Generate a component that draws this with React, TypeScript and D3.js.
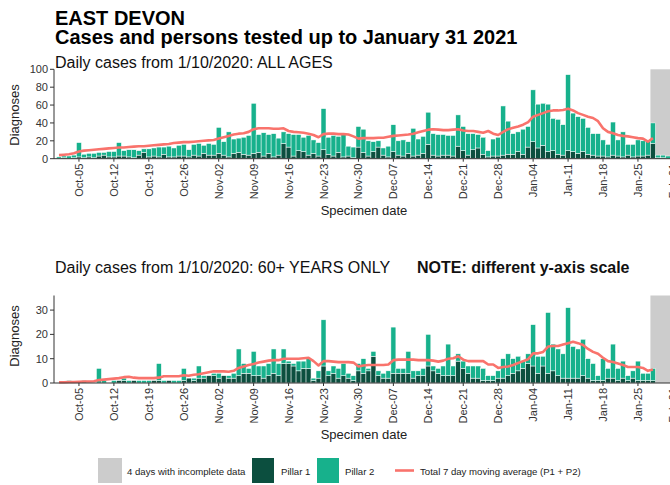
import React from "react";
import * as d3 from "d3";

// ---------- DATA ----------
const START_DATE = Date.UTC(2020, 9, 1); // 1 Oct 2020, one value per day to 31 Jan 2021
const INCOMPLETE_DAYS = 4;

// ALL AGES
const allPillar1 = [
  0, 1, 0, 1, 2, 1, 2, 1, 3, 4, 2, 2, 3, 3, 2, 1, 4, 7, 2, 3,
  2, 5, 2, 2, 3, 3, 2, 4, 3, 6, 4, 4, 6, 4, 2, 6, 7, 5, 4, 6,
  7, 3, 6, 2, 4, 17, 13, 3, 9, 8, 4, 6, 3, 10, 5, 3, 7, 2, 3, 1,
  13, 7, 3, 8, 13, 4, 2, 8, 4, 3, 6, 3, 4, 6, 16, 4, 3, 4, 4, 3,
  14, 9, 4, 10, 12, 5, 2, 3, 3, 4, 5, 5, 8, 5, 13, 19, 12, 15, 8, 9,
  5, 4, 9, 8, 6, 8, 5, 4, 3, 3, 2, 4, 3, 2, 4, 2, 3, 3, 4, 17,
  1, 1, 0,
];
const allPillar2 = [
  2, 2, 3, 3, 16, 4, 4, 5, 4, 3, 6, 6, 15, 6, 8, 9, 5, 4, 9, 9,
  11, 8, 12, 10, 12, 13, 8, 12, 14, 9, 13, 12, 29, 15, 28, 16, 16, 19, 22, 56,
  20, 26, 21, 26, 19, 13, 15, 24, 18, 16, 22, 15, 15, 46, 19, 23, 18, 25, 11, 12,
  23, 26, 17, 11, 7, 8, 12, 30, 16, 18, 13, 31, 18, 19, 36, 24, 24, 23, 22, 23,
  35, 27, 24, 18, 15, 19, 7, 19, 21, 55, 37, 23, 22, 28, 23, 58, 49, 47, 53, 36,
  39, 34, 85, 43, 41, 37, 30, 24, 25, 18, 14, 37, 18, 28, 12, 14, 18, 17, 16, 23,
  3, 3, 3,
];
const allMovingAvg = [
  4, 4.5, 5, 6, 8, 9, 9.5, 10, 10.5, 11, 11.5, 12, 12.5, 12.5, 13, 13.5, 14, 14, 14.5, 15,
  15.5, 16, 16.5, 17.5, 18, 18.5, 18.5, 19, 19.5, 20, 20.5, 21, 22.5, 24, 25.5, 27, 28, 28.5, 30, 33,
  34, 34, 34, 33.5, 33.5, 34, 31, 30, 29.5, 29, 28, 26.5, 24, 27.5, 28, 28, 27.5, 27.5, 27, 25,
  22.5, 23, 23, 23, 23.5, 23.5, 24.5, 25.5, 26, 26.5, 27, 28, 29.5, 31, 32.5, 33, 32.5, 32, 32, 32.5,
  33, 31.5, 31, 31, 30, 29, 31, 28, 26.5, 30, 33, 34.5, 36, 38, 41, 47, 49, 51, 53, 54,
  54, 54.5, 56, 54, 51, 49, 47, 45.5, 42, 34, 30, 28.5, 26.5, 25.5, 25, 24, 23, 22.5, 19, 23,
];

// 60+ YEARS ONLY
const oldPillar1 = [
  0, 0, 0, 0, 0, 0, 0, 0, 0, 0, 0, 0, 1, 1, 0, 1, 0, 0, 0, 1,
  1, 0, 1, 0, 0, 1, 2, 1, 2, 2, 3, 3, 2, 3, 2, 2, 3, 4, 4, 3,
  3, 2, 3, 4, 3, 8, 8, 7, 5, 6, 6, 1, 2, 7, 3, 4, 2, 3, 2, 1,
  5, 4, 5, 11, 3, 2, 2, 4, 4, 4, 4, 2, 3, 3, 7, 5, 4, 3, 3, 3,
  9, 6, 4, 2, 2, 1, 1, 1, 2, 2, 3, 4, 5, 6, 8, 7, 4, 7, 4, 5,
  3, 2, 2, 2, 2, 3, 2, 1, 1, 1, 2, 2, 1, 2, 1, 2, 1, 1, 1, 1,
  0, 0, 0,
];
const oldPillar2 = [
  0, 0, 1, 0, 0, 1, 0, 0, 6, 1, 0, 1, 0, 1, 1, 0, 1, 1, 1, 0,
  7, 1, 0, 1, 1, 5, 0, 1, 5, 1, 0, 1, 2, 0, 1, 2, 11, 4, 2, 10,
  4, 5, 5, 10, 5, 6, 1, 1, 4, 3, 4, 1, 3, 19, 2, 3, 4, 5, 2, 2,
  3, 6, 1, 2, 2, 2, 3, 19, 2, 2, 9, 3, 2, 3, 13, 2, 2, 4, 13, 4,
  3, 3, 3, 5, 5, 5, 2, 2, 3, 8, 9, 6, 6, 3, 4, 17, 7, 4, 25, 11,
  11, 10, 29, 13, 12, 15, 8, 7, 2, 9, 4, 14, 5, 7, 2, 3, 8, 3, 3, 5,
  0, 0, 0,
];
const oldMovingAvg = [
  0.3, 0.3, 0.4, 0.4, 0.5, 0.6, 0.6, 0.7, 1.2, 1.4, 1.6, 1.8, 2.0, 2.4, 2.6, 2.2, 2.0, 2.0, 2.0, 2.0,
  2.2, 2.8, 2.8, 2.8, 2.8, 3.2, 3.0, 3.4, 3.6, 4.0, 4.4, 4.8, 4.8, 4.8, 4.6, 5.0, 6.2, 6.8, 7.4, 7.8,
  8.4, 8.8, 9.2, 9.4, 9.4, 10.0, 10.0, 10.0, 10.0, 10.2, 10.4, 9.0, 7.2, 9.0, 9.0, 8.8, 8.6, 8.6, 8.6, 8.4,
  6.8, 7.2, 7.4, 7.4, 7.4, 7.4, 7.6, 9.4, 9.6, 9.6, 9.6, 9.6, 9.4, 9.4, 9.4, 9.2, 8.8, 9.2, 10.0, 10.2,
  11.0, 9.6, 9.0, 9.0, 9.0, 9.0, 7.6, 7.6, 6.2, 6.6, 6.8, 7.4, 8.2, 9.0, 9.8, 12.2, 12.2, 12.8, 15.0, 15.2,
  15.2, 15.8, 16.4, 17.0, 16.4, 15.6, 14.0, 12.8, 12.0, 10.4, 9.0, 8.6, 8.0, 7.4, 6.6, 6.6, 6.6, 6.2, 5.0, 5.6,
];

const topTicks = [0, 20, 40, 60, 80, 100];
const bottomTicks = [0, 10, 20, 30];
const legendLabels = ["4 days with incomplete data", "Pillar 1", "Pillar 2", "Total 7 day moving average (P1 + P2)"];

// ---------- STYLE ----------
const W = 670;
const H = 485;
const FONT = "'Liberation Sans', Arial, Helvetica, sans-serif";
const C_P1 = "#0c4f3f";
const C_P2 = "#17b18c";
const C_LINE = "#f9736c";
const C_GRAY = "#cccccc";
const C_AXIS = "#333333";

const DAY_MS = 86400000;
const day = (i: number) => new Date(START_DATE + i * DAY_MS);

const x = d3
  .scaleUtc()
  .domain([day(-1), day(127)])
  .range([54, 54 + 128 * 4.991]);

const fmt = d3.utcFormat("%b-%d");

type PanelProps = {
  p1: number[];
  p2: number[];
  ma: number[];
  yMax: number;
  ticks: number[];
  yBottom: number;
  yTop: number;
  xTitleY: number;
  yTitleY: number;
};

function Panel({ p1, p2, ma, yMax, ticks, yBottom, yTop, xTitleY, yTitleY }: PanelProps) {
  const y = d3.scaleLinear().domain([0, yMax]).range([yBottom, yTop]);
  const step = x(day(1)) - x(day(0));
  const n = p1.length;
  const grayX = x(day(n - INCOMPLETE_DAYS)) - step / 2;
  const line = d3
    .line<number>()
    .x((_, i) => x(day(i)))
    .y((d) => y(d))
    .curve(d3.curveLinear);
  const weeks = d3.utcMonday.range(day(1), day(126));
  const xRight = x.range()[1];

  return (
    <g>
      <rect x={grayX} y={y(yMax)} width={step * INCOMPLETE_DAYS} height={y(0) - y(yMax)} fill={C_GRAY} />
      {p1.map((v, i) => {
        const cx = x(day(i));
        return (
          <g key={i}>
            <rect
              x={cx - step / 2}
              width={step}
              y={y(v)}
              height={y(0) - y(v)}
              fill={C_P1}
              stroke="#ffffff"
              strokeWidth={0.5}
            />
            <rect
              x={cx - step / 2}
              width={step}
              y={y(v + p2[i])}
              height={y(v) - y(v + p2[i])}
              fill={C_P2}
              stroke="#ffffff"
              strokeWidth={0.5}
            />
          </g>
        );
      })}
      <path d={line(ma) || ""} fill="none" stroke={C_LINE} strokeWidth={2.6} strokeLinejoin="round" />
      {/* y axis */}
      <line x1={54} x2={54} y1={y(0)} y2={y(yMax)} stroke={C_AXIS} strokeWidth={1} />
      {ticks.map((t) => (
        <g key={t}>
          <line x1={50} x2={54} y1={y(t)} y2={y(t)} stroke={C_AXIS} strokeWidth={1} />
          <text
            x={48}
            y={y(t)}
            textAnchor="end"
            dominantBaseline="central"
            fontSize={11}
            fill="#333"
            fontFamily={FONT}
          >
            {t}
          </text>
        </g>
      ))}
      {/* x axis */}
      <line x1={54} x2={xRight} y1={y(0)} y2={y(0)} stroke={C_AXIS} strokeWidth={1} />
      {weeks.map((d) => {
        const cx = x(d);
        return (
          <g key={+d}>
            <line x1={cx} x2={cx} y1={y(0)} y2={y(0) + 3} stroke={C_AXIS} strokeWidth={1} />
            <text
              transform={`translate(${cx},${y(0) + 5}) rotate(-90)`}
              textAnchor="end"
              dominantBaseline="central"
              fontSize={11}
              fill="#333"
              fontFamily={FONT}
            >
              {fmt(d)}
            </text>
          </g>
        );
      })}
      <text x={364} y={xTitleY} textAnchor="middle" fontSize={13} fontFamily={FONT} fill="#222">
        Specimen date
      </text>
      <text
        transform={`translate(14,${yTitleY}) rotate(-90)`}
        textAnchor="middle"
        dominantBaseline="central"
        fontSize={13}
        fontFamily={FONT}
        fill="#222"
      >
        Diagnoses
      </text>
    </g>
  );
}

export default function App() {
  return (
    <svg
      width={W}
      height={H}
      viewBox={`0 0 ${W} ${H}`}
      style={{ position: "absolute", left: 0, top: 0, display: "block", background: "#fff" }}
    >
      <rect width={W} height={H} fill="#fff" />
      <text x={55} y={24.5} fontSize={20} fontWeight="bold" fontFamily={FONT} fill="#000">
        EAST DEVON
      </text>
      <text x={55} y={44} fontSize={20} fontWeight="bold" fontFamily={FONT} fill="#000">
        Cases and persons tested up to January 31 2021
      </text>
      <text x={55} y={68} fontSize={16} fontFamily={FONT} fill="#111">
        Daily cases from 1/10/2020: ALL AGES
      </text>
      <Panel
        p1={allPillar1}
        p2={allPillar2}
        ma={allMovingAvg}
        yMax={100}
        ticks={topTicks}
        yBottom={158.7}
        yTop={69.3}
        xTitleY={215}
        yTitleY={115}
      />
      <text x={55} y={273} fontSize={16} fontFamily={FONT} fill="#111">
        Daily cases from 1/10/2020: 60+ YEARS ONLY
      </text>
      <text x={417} y={273} fontSize={16} fontWeight="bold" fontFamily={FONT} fill="#111">
        NOTE: different y-axis scale
      </text>
      <Panel
        p1={oldPillar1}
        p2={oldPillar2}
        ma={oldMovingAvg}
        yMax={36}
        ticks={bottomTicks}
        yBottom={383}
        yTop={295.5}
        xTitleY={439}
        yTitleY={336}
      />
      {/* legend */}
      <g fontFamily={FONT} fontSize={9.6} fill="#222">
        <rect x={98} y={458} width={24} height={25} fill={C_GRAY} />
        <text x={127} y={474.5}>{legendLabels[0]}</text>
        <rect x={252} y={458} width={22} height={25} fill={C_P1} />
        <text x={281} y={474.5}>{legendLabels[1]}</text>
        <rect x={317} y={458} width={22} height={25} fill={C_P2} />
        <text x={345} y={474.5}>{legendLabels[2]}</text>
        <line x1={395} x2={414} y1={470.5} y2={470.5} stroke={C_LINE} strokeWidth={2.6} />
        <text x={420} y={474.5}>{legendLabels[3]}</text>
      </g>
    </svg>
  );
}
